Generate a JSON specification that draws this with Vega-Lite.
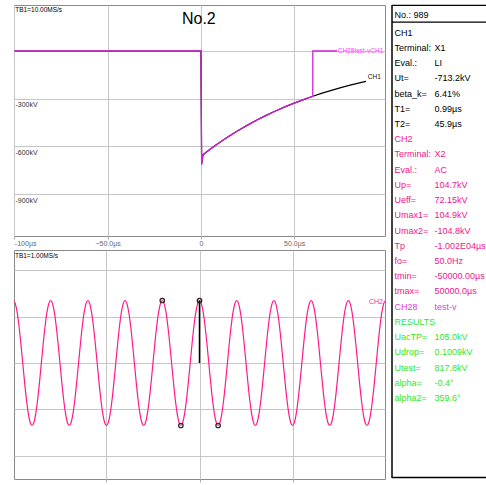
{
  "$schema": "https://vega.github.io/schema/vega-lite/v6.json",
  "padding": {"left": 13, "top": 4, "right": 0, "bottom": 0},
  "background": "white",
  "spacing": 5,
  "resolve": {"scale": {"color": "independent"}},
  "config": {
    "font": "Liberation Sans, Arial, sans-serif",
    "view": {"stroke": "#8a8a8a", "strokeWidth": 1},
    "axis": {"gridColor": "#c6c6c6", "gridWidth": 1, "labelFontSize": 7, "labelColor": "#666", "domain": false, "tickColor": "#aaa", "tickSize": 3}
  },
  "datasets": {
    "wave": [
      {"s": "CH1", "i": 0, "t": -100, "v": 0},
      {"s": "CH1", "i": 1, "t": 0, "v": 0},
      {"s": "CH1", "i": 2, "t": 0.4, "v": -713},
      {"s": "CH1", "i": 3, "t": 1.1, "v": -654},
      {"s": "CH1", "i": 4, "t": 3, "v": -635.8},
      {"s": "CH1", "i": 5, "t": 6, "v": -609.5},
      {"s": "CH1", "i": 6, "t": 10, "v": -576.1},
      {"s": "CH1", "i": 7, "t": 15, "v": -537},
      {"s": "CH1", "i": 8, "t": 20, "v": -500.4},
      {"s": "CH1", "i": 9, "t": 25, "v": -466.4},
      {"s": "CH1", "i": 10, "t": 30, "v": -434.7},
      {"s": "CH1", "i": 11, "t": 35, "v": -405.1},
      {"s": "CH1", "i": 12, "t": 40, "v": -377.6},
      {"s": "CH1", "i": 13, "t": 45, "v": -351.9},
      {"s": "CH1", "i": 14, "t": 50, "v": -328},
      {"s": "CH1", "i": 15, "t": 55, "v": -305.7},
      {"s": "CH1", "i": 16, "t": 60, "v": -284.9},
      {"s": "CH1", "i": 17, "t": 65, "v": -265.5},
      {"s": "CH1", "i": 18, "t": 70, "v": -247.5},
      {"s": "CH1", "i": 19, "t": 75, "v": -230.6},
      {"s": "CH1", "i": 20, "t": 80, "v": -214.9},
      {"s": "CH1", "i": 21, "t": 85, "v": -200.3},
      {"s": "CH1", "i": 22, "t": 88.5, "v": -190.7},
      {"s": "CH28", "i": 0, "t": -100, "v": 0},
      {"s": "CH28", "i": 1, "t": 0, "v": 0},
      {"s": "CH28", "i": 2, "t": 0.4, "v": -713},
      {"s": "CH28", "i": 3, "t": 1.1, "v": -654},
      {"s": "CH28", "i": 4, "t": 3, "v": -635.8},
      {"s": "CH28", "i": 5, "t": 6, "v": -609.5},
      {"s": "CH28", "i": 6, "t": 10, "v": -576.1},
      {"s": "CH28", "i": 7, "t": 15, "v": -537},
      {"s": "CH28", "i": 8, "t": 20, "v": -500.4},
      {"s": "CH28", "i": 9, "t": 25, "v": -466.4},
      {"s": "CH28", "i": 10, "t": 30, "v": -434.7},
      {"s": "CH28", "i": 11, "t": 35, "v": -405.1},
      {"s": "CH28", "i": 12, "t": 40, "v": -377.6},
      {"s": "CH28", "i": 13, "t": 45, "v": -351.9},
      {"s": "CH28", "i": 14, "t": 50, "v": -328},
      {"s": "CH28", "i": 15, "t": 55, "v": -305.7},
      {"s": "CH28", "i": 16, "t": 60, "v": -284.9},
      {"s": "CH28", "i": 17, "t": 60, "v": 0},
      {"s": "CH28", "i": 18, "t": 73, "v": 0}
    ],
    "topLabels": [
      {"t": 73.4, "v": 0, "txt": "CH28test-vCH1", "g": "m"},
      {"t": 89.5, "v": -163.5, "txt": "CH1", "g": "k"}
    ],
    "sine": [
      {"t": -100, "v": 104.8}, {"t": -99, "v": 99.67}, {"t": -98, "v": 84.78}, {"t": -97, "v": 61.6}, {"t": -96, "v": 32.39},
      {"t": -95, "v": 0}, {"t": -94, "v": -32.39}, {"t": -93, "v": -61.6}, {"t": -92, "v": -84.78}, {"t": -91, "v": -99.67},
      {"t": -90, "v": -104.8}, {"t": -89, "v": -99.67}, {"t": -88, "v": -84.78}, {"t": -87, "v": -61.6}, {"t": -86, "v": -32.39},
      {"t": -85, "v": 0}, {"t": -84, "v": 32.39}, {"t": -83, "v": 61.6}, {"t": -82, "v": 84.78}, {"t": -81, "v": 99.67},
      {"t": -80, "v": 104.8}, {"t": -79, "v": 99.67}, {"t": -78, "v": 84.78}, {"t": -77, "v": 61.6}, {"t": -76, "v": 32.39},
      {"t": -75, "v": 0}, {"t": -74, "v": -32.39}, {"t": -73, "v": -61.6}, {"t": -72, "v": -84.78}, {"t": -71, "v": -99.67},
      {"t": -70, "v": -104.8}, {"t": -69, "v": -99.67}, {"t": -68, "v": -84.78}, {"t": -67, "v": -61.6}, {"t": -66, "v": -32.39},
      {"t": -65, "v": 0}, {"t": -64, "v": 32.39}, {"t": -63, "v": 61.6}, {"t": -62, "v": 84.78}, {"t": -61, "v": 99.67},
      {"t": -60, "v": 104.8}, {"t": -59, "v": 99.67}, {"t": -58, "v": 84.78}, {"t": -57, "v": 61.6}, {"t": -56, "v": 32.39},
      {"t": -55, "v": 0}, {"t": -54, "v": -32.39}, {"t": -53, "v": -61.6}, {"t": -52, "v": -84.78}, {"t": -51, "v": -99.67},
      {"t": -50, "v": -104.8}, {"t": -49, "v": -99.67}, {"t": -48, "v": -84.78}, {"t": -47, "v": -61.6}, {"t": -46, "v": -32.39},
      {"t": -45, "v": 0}, {"t": -44, "v": 32.39}, {"t": -43, "v": 61.6}, {"t": -42, "v": 84.78}, {"t": -41, "v": 99.67},
      {"t": -40, "v": 104.8}, {"t": -39, "v": 99.67}, {"t": -38, "v": 84.78}, {"t": -37, "v": 61.6}, {"t": -36, "v": 32.39},
      {"t": -35, "v": 0}, {"t": -34, "v": -32.39}, {"t": -33, "v": -61.6}, {"t": -32, "v": -84.78}, {"t": -31, "v": -99.67},
      {"t": -30, "v": -104.8}, {"t": -29, "v": -99.67}, {"t": -28, "v": -84.78}, {"t": -27, "v": -61.6}, {"t": -26, "v": -32.39},
      {"t": -25, "v": 0}, {"t": -24, "v": 32.39}, {"t": -23, "v": 61.6}, {"t": -22, "v": 84.78}, {"t": -21, "v": 99.67},
      {"t": -20, "v": 104.8}, {"t": -19, "v": 99.67}, {"t": -18, "v": 84.78}, {"t": -17, "v": 61.6}, {"t": -16, "v": 32.39},
      {"t": -15, "v": 0}, {"t": -14, "v": -32.39}, {"t": -13, "v": -61.6}, {"t": -12, "v": -84.78}, {"t": -11, "v": -99.67},
      {"t": -10, "v": -104.8}, {"t": -9, "v": -99.67}, {"t": -8, "v": -84.78}, {"t": -7, "v": -61.6}, {"t": -6, "v": -32.39},
      {"t": -5, "v": 0}, {"t": -4, "v": 32.39}, {"t": -3, "v": 61.6}, {"t": -2, "v": 84.78}, {"t": -1, "v": 99.67},
      {"t": 0, "v": 104.8}, {"t": 1, "v": 99.67}, {"t": 2, "v": 84.78}, {"t": 3, "v": 61.6}, {"t": 4, "v": 32.39},
      {"t": 5, "v": 0}, {"t": 6, "v": -32.39}, {"t": 7, "v": -61.6}, {"t": 8, "v": -84.78}, {"t": 9, "v": -99.67},
      {"t": 10, "v": -104.8}, {"t": 11, "v": -99.67}, {"t": 12, "v": -84.78}, {"t": 13, "v": -61.6}, {"t": 14, "v": -32.39},
      {"t": 15, "v": 0}, {"t": 16, "v": 32.39}, {"t": 17, "v": 61.6}, {"t": 18, "v": 84.78}, {"t": 19, "v": 99.67},
      {"t": 20, "v": 104.8}, {"t": 21, "v": 99.67}, {"t": 22, "v": 84.78}, {"t": 23, "v": 61.6}, {"t": 24, "v": 32.39},
      {"t": 25, "v": 0}, {"t": 26, "v": -32.39}, {"t": 27, "v": -61.6}, {"t": 28, "v": -84.78}, {"t": 29, "v": -99.67},
      {"t": 30, "v": -104.8}, {"t": 31, "v": -99.67}, {"t": 32, "v": -84.78}, {"t": 33, "v": -61.6}, {"t": 34, "v": -32.39},
      {"t": 35, "v": 0}, {"t": 36, "v": 32.39}, {"t": 37, "v": 61.6}, {"t": 38, "v": 84.78}, {"t": 39, "v": 99.67},
      {"t": 40, "v": 104.8}, {"t": 41, "v": 99.67}, {"t": 42, "v": 84.78}, {"t": 43, "v": 61.6}, {"t": 44, "v": 32.39},
      {"t": 45, "v": 0}, {"t": 46, "v": -32.39}, {"t": 47, "v": -61.6}, {"t": 48, "v": -84.78}, {"t": 49, "v": -99.67},
      {"t": 50, "v": -104.8}, {"t": 51, "v": -99.67}, {"t": 52, "v": -84.78}, {"t": 53, "v": -61.6}, {"t": 54, "v": -32.39},
      {"t": 55, "v": 0}, {"t": 56, "v": 32.39}, {"t": 57, "v": 61.6}, {"t": 58, "v": 84.78}, {"t": 59, "v": 99.67},
      {"t": 60, "v": 104.8}, {"t": 61, "v": 99.67}, {"t": 62, "v": 84.78}, {"t": 63, "v": 61.6}, {"t": 64, "v": 32.39},
      {"t": 65, "v": 0}, {"t": 66, "v": -32.39}, {"t": 67, "v": -61.6}, {"t": 68, "v": -84.78}, {"t": 69, "v": -99.67},
      {"t": 70, "v": -104.8}, {"t": 71, "v": -99.67}, {"t": 72, "v": -84.78}, {"t": 73, "v": -61.6}, {"t": 74, "v": -32.39},
      {"t": 75, "v": 0}, {"t": 76, "v": 32.39}, {"t": 77, "v": 61.6}, {"t": 78, "v": 84.78}, {"t": 79, "v": 99.67},
      {"t": 80, "v": 104.8}, {"t": 81, "v": 99.67}, {"t": 82, "v": 84.78}, {"t": 83, "v": 61.6}, {"t": 84, "v": 32.39},
      {"t": 85, "v": 0}, {"t": 86, "v": -32.39}, {"t": 87, "v": -61.6}, {"t": 88, "v": -84.78}, {"t": 89, "v": -99.67},
      {"t": 90, "v": -104.8}, {"t": 91, "v": -99.67}, {"t": 92, "v": -84.78}, {"t": 93, "v": -61.6}, {"t": 94, "v": -32.39},
      {"t": 95, "v": 0}, {"t": 96, "v": 32.39}, {"t": 97, "v": 61.6}, {"t": 98, "v": 84.78}, {"t": 99, "v": 99.67},
      {"t": 100, "v": 104.8}
    ],
    "markers": [
      {"t": -20, "v": 104.8},
      {"t": 0, "v": 104.8},
      {"t": -10, "v": -104.8},
      {"t": 10, "v": -104.8}
    ],
    "cursor": [{"t": 0, "a": 0, "b": 104.8}],
    "info": [
      {"row": -0.15, "col": 0, "txt": "No.: 989", "g": "k"},
      {"row": 1, "col": 0, "txt": "CH1", "g": "k"},
      {"row": 2, "col": 0, "txt": "Terminal:", "g": "k"},
      {"row": 2, "col": 1, "txt": "X1", "g": "k"},
      {"row": 3, "col": 0, "txt": "Eval.:", "g": "k"},
      {"row": 3, "col": 1, "txt": "LI", "g": "k"},
      {"row": 4, "col": 0, "txt": "Ut=", "g": "k"},
      {"row": 4, "col": 1, "txt": "-713.2kV", "g": "k"},
      {"row": 5, "col": 0, "txt": "beta_k=", "g": "k"},
      {"row": 5, "col": 1, "txt": "6.41%", "g": "k"},
      {"row": 6, "col": 0, "txt": "T1=", "g": "k"},
      {"row": 6, "col": 1, "txt": "0.99µs", "g": "k"},
      {"row": 7, "col": 0, "txt": "T2=", "g": "k"},
      {"row": 7, "col": 1, "txt": "45.9µs", "g": "k"},
      {"row": 8, "col": 0, "txt": "CH2", "g": "p"},
      {"row": 9, "col": 0, "txt": "Terminal:", "g": "p"},
      {"row": 9, "col": 1, "txt": "X2", "g": "p"},
      {"row": 10, "col": 0, "txt": "Eval.:", "g": "p"},
      {"row": 10, "col": 1, "txt": "AC", "g": "p"},
      {"row": 11, "col": 0, "txt": "Up=", "g": "p"},
      {"row": 11, "col": 1, "txt": "104.7kV", "g": "p"},
      {"row": 12, "col": 0, "txt": "Ueff=", "g": "p"},
      {"row": 12, "col": 1, "txt": "72.15kV", "g": "p"},
      {"row": 13, "col": 0, "txt": "Umax1=", "g": "p"},
      {"row": 13, "col": 1, "txt": "104.9kV", "g": "p"},
      {"row": 14, "col": 0, "txt": "Umax2=", "g": "p"},
      {"row": 14, "col": 1, "txt": "-104.8kV", "g": "p"},
      {"row": 15, "col": 0, "txt": "Tp", "g": "p"},
      {"row": 15, "col": 1, "txt": "-1.002E04µs", "g": "p"},
      {"row": 16, "col": 0, "txt": "fo=", "g": "p"},
      {"row": 16, "col": 1, "txt": "50.0Hz", "g": "p"},
      {"row": 17, "col": 0, "txt": "tmin=", "g": "p"},
      {"row": 17, "col": 1, "txt": "-50000.00µs", "g": "p"},
      {"row": 18, "col": 0, "txt": "tmax=", "g": "p"},
      {"row": 18, "col": 1, "txt": "50000.0µs", "g": "p"},
      {"row": 19, "col": 0, "txt": "CH28", "g": "m"},
      {"row": 19, "col": 1, "txt": "test-v", "g": "m"},
      {"row": 20, "col": 0, "txt": "RESULTS", "g": "g"},
      {"row": 21, "col": 0, "txt": "UacTP=", "g": "g"},
      {"row": 21, "col": 1, "txt": "105.0kV", "g": "g"},
      {"row": 22, "col": 0, "txt": "Udrop=", "g": "g"},
      {"row": 22, "col": 1, "txt": "0.1009kV", "g": "g"},
      {"row": 23, "col": 0, "txt": "Utest=", "g": "g"},
      {"row": 23, "col": 1, "txt": "817.8kV", "g": "g"},
      {"row": 24, "col": 0, "txt": "alpha=", "g": "g"},
      {"row": 24, "col": 1, "txt": "-0.4°", "g": "g"},
      {"row": 25, "col": 0, "txt": "alpha2=", "g": "g"},
      {"row": 25, "col": 1, "txt": "359.6°", "g": "g"}
    ]
  },
  "hconcat": [
    {
      "bounds": "flush",
      "spacing": 14,
      "vconcat": [
        {
          "width": 371,
          "height": 231,
          "layer": [
            {
              "data": {"name": "wave"},
              "transform": [{"filter": "datum.s == 'CH1'"}],
              "mark": {"type": "line", "color": "#000000", "strokeWidth": 1.2, "clip": true},
              "encoding": {
                "x": {"field": "t", "type": "quantitative", "title": null,
                  "scale": {"domain": [-100.2, 98.7], "nice": false, "zero": false},
                  "axis": {"values": [-100, -50, 0, 50], "grid": true, "labelFlush": 3, "labelPadding": 0, "tickSize": 3,
                    "labelExpr": "datum.value == 0 ? '0' : datum.value == -100 ? '-100µs' : format(datum.value, '.1f') + 'µs'"}},
                "y": {"field": "v", "type": "quantitative", "title": null,
                  "scale": {"domain": [-1164.3, 289.5], "nice": false, "zero": false},
                  "axis": {"values": [0, -300, -600, -900], "grid": true, "ticks": false, "tickSize": 0, "labelAlign": "left", "labelBaseline": "top", "labelPadding": -1, "labelOffset": 2, "labelColor": "#333",
                    "labelExpr": "datum.value == 0 ? '' : datum.value + 'kV'"}},
                "order": {"field": "i", "type": "quantitative"}
              }
            },
            {
              "data": {"name": "wave"},
              "transform": [{"filter": "datum.s == 'CH28'"}],
              "mark": {"type": "line", "color": "#d21fd2", "strokeWidth": 1.3, "clip": true},
              "encoding": {
                "x": {"field": "t", "type": "quantitative"},
                "y": {"field": "v", "type": "quantitative"},
                "order": {"field": "i", "type": "quantitative"}
              }
            },
            {
              "data": {"name": "topLabels"},
              "mark": {"type": "text", "align": "left", "baseline": "middle", "fontSize": 6.5, "clip": true},
              "encoding": {
                "x": {"field": "t", "type": "quantitative"},
                "y": {"field": "v", "type": "quantitative"},
                "text": {"field": "txt"},
                "color": {"field": "g", "type": "nominal", "legend": null,
                  "scale": {"domain": ["k", "m"], "range": ["#111111", "#ff3cff"]}}
              }
            },
            {
              "data": {"values": [{}]},
              "mark": {"type": "text", "align": "center", "baseline": "middle", "fontSize": 16, "color": "#000000", "clip": true},
              "encoding": {
                "x": {"datum": -1.1, "type": "quantitative"},
                "y": {"datum": 201, "type": "quantitative"},
                "text": {"value": "No.2"}
              }
            },
            {
              "data": {"values": [{}]},
              "mark": {"type": "text", "align": "left", "baseline": "top", "fontSize": 6.5, "color": "#000000", "clip": true},
              "encoding": {
                "x": {"datum": -99.5, "type": "quantitative"},
                "y": {"datum": 276, "type": "quantitative"},
                "text": {"value": "TB1=10.00MS/s"}
              }
            }
          ]
        },
        {
          "width": 371,
          "height": 229,
          "layer": [
            {
              "data": {"name": "sine"},
              "mark": {"type": "line", "color": "#ff1a8c", "strokeWidth": 1.2, "interpolate": "monotone", "clip": true},
              "encoding": {
                "x": {"field": "t", "type": "quantitative", "title": null,
                  "scale": {"domain": [-99.7, 99.7], "nice": false, "zero": false},
                  "axis": {"values": [-100, -50, 0, 50], "grid": true, "labelFlush": 3, "labelPadding": 1, "tickSize": 3,
                    "labelExpr": "datum.value == 0 ? '0' : datum.value == -100 ? '-100ms' : format(datum.value, '.1f') + 'ms'"}},
                "y": {"field": "v", "type": "quantitative", "title": null,
                  "scale": {"domain": [-194.5, 189.5], "nice": false, "zero": false},
                  "axis": {"values": [-155.2, -116.4, -77.6, -38.8, 0, 38.8, 77.6, 116.4, 155.2], "grid": true, "labels": false, "ticks": false, "tickSize": 0}}
              }
            },
            {
              "data": {"name": "cursor"},
              "mark": {"type": "rule", "color": "#000000", "strokeWidth": 1.5},
              "encoding": {
                "x": {"field": "t", "type": "quantitative"},
                "y": {"field": "a", "type": "quantitative"},
                "y2": {"field": "b"}
              }
            },
            {
              "data": {"name": "markers"},
              "mark": {"type": "point", "filled": false, "shape": "circle", "size": 20, "strokeWidth": 1.2, "color": "#222222", "opacity": 1},
              "encoding": {
                "x": {"field": "t", "type": "quantitative"},
                "y": {"field": "v", "type": "quantitative"}
              }
            },
            {
              "data": {"values": [{}]},
              "mark": {"type": "text", "align": "left", "baseline": "middle", "fontSize": 7, "color": "#ff1a8c", "clip": true},
              "encoding": {
                "x": {"datum": 91.1, "type": "quantitative"},
                "y": {"datum": 102, "type": "quantitative"},
                "text": {"value": "CH2"}
              }
            },
            {
              "data": {"values": [{}]},
              "mark": {"type": "text", "align": "left", "baseline": "top", "fontSize": 6.5, "color": "#000000", "clip": true},
              "encoding": {
                "x": {"datum": -99.2, "type": "quantitative"},
                "y": {"datum": 185, "type": "quantitative"},
                "text": {"value": "TB1=1.00MS/s"}
              }
            }
          ]
        }
      ]
    },
    {
      "width": 94,
      "height": 473,
      "view": {"stroke": null},
      "layer": [
        {
          "data": {"name": "info"},
          "mark": {"type": "text", "align": "left", "baseline": "middle", "fontSize": 9},
          "encoding": {
            "x": {"field": "col", "type": "quantitative", "axis": null, "scale": {"domain": [-0.0625, 2.2875], "nice": false, "zero": false}},
            "y": {"field": "row", "type": "quantitative", "axis": null, "scale": {"domain": [-0.82, 30.26], "reverse": true, "nice": false, "zero": false}},
            "text": {"field": "txt"},
            "color": {"field": "g", "type": "nominal", "legend": null,
              "scale": {"domain": ["k", "p", "m", "g"], "range": ["#000000", "#f0148c", "#e03ce0", "#2ee82e"]}}
          }
        },
        {
          "data": {"values": [{}]},
          "mark": {"type": "rule", "color": "#000000", "strokeWidth": 1.5},
          "encoding": {
            "x": {"datum": -0.0625, "type": "quantitative"},
            "y": {"datum": -0.82, "type": "quantitative"},
            "y2": {"datum": 30.26}
          }
        },
        {
          "data": {"values": [{}]},
          "mark": {"type": "rule", "color": "#000000", "strokeWidth": 1.2},
          "encoding": {
            "x": {"datum": -0.0625, "type": "quantitative"},
            "x2": {"datum": 2.2875},
            "y": {"datum": -0.8, "type": "quantitative"}
          }
        },
        {
          "data": {"values": [{}]},
          "mark": {"type": "rule", "color": "#000000", "strokeWidth": 1.2},
          "encoding": {
            "x": {"datum": -0.0625, "type": "quantitative"},
            "x2": {"datum": 2.2875},
            "y": {"datum": 0.3, "type": "quantitative"}
          }
        },
        {
          "data": {"values": [{}]},
          "mark": {"type": "rule", "color": "#000000", "strokeWidth": 1.5},
          "encoding": {
            "x": {"datum": -0.0625, "type": "quantitative"},
            "x2": {"datum": 2.2875},
            "y": {"datum": 30.22, "type": "quantitative"}
          }
        }
      ]
    }
  ]
}
